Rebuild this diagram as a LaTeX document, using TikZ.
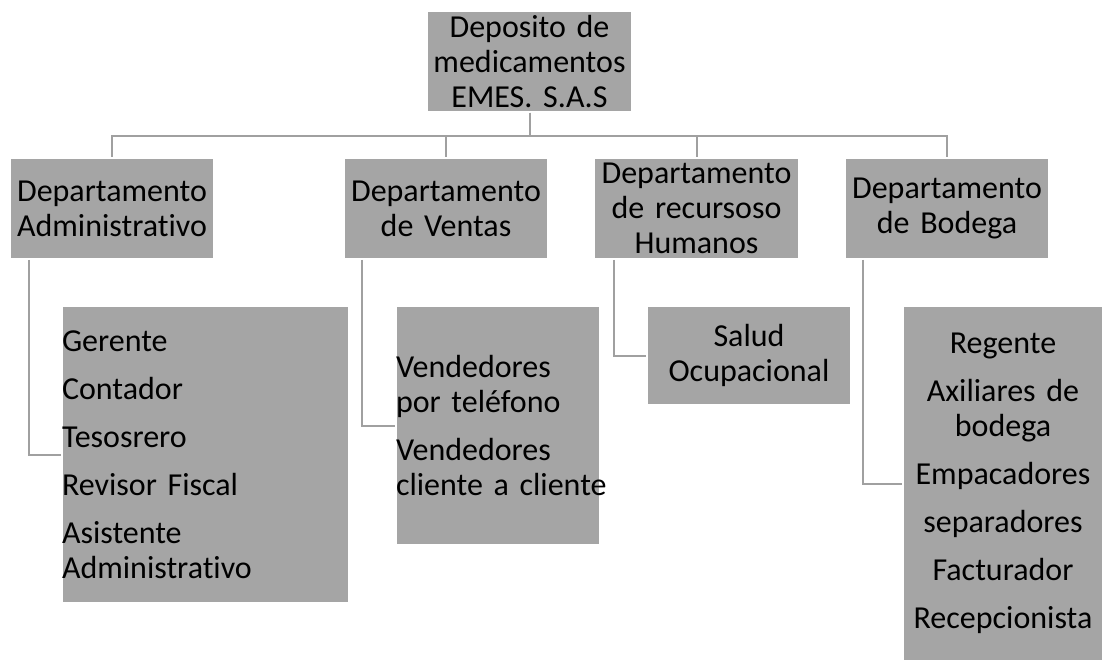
\documentclass[tikz,border=0pt]{standalone}
\usepackage{fontspec}
\setmainfont{Carlito}[Ligatures={NoCommon}]
\usetikzlibrary{positioning}
\definecolor{boxgray}{HTML}{A5A5A5}
\definecolor{linegray}{HTML}{A0A0A0}
\newcommand{\boxfont}{\fontsize{32}{35}\selectfont\fontdimen2\font=4pt}
\begin{document}
\begin{tikzpicture}[x=1pt, y=-1pt,
deptbox/.style={rectangle, draw=white, line width=1.5pt, fill=boxgray, inner sep=0pt, minimum width=204pt, minimum height=101pt, text width=204pt, align=center, font=\boxfont},
kidbox/.style={rectangle, draw=white, line width=1.5pt, fill=boxgray, inner sep=0pt, minimum width=204pt, text width=204pt, font=\boxfont},
conn/.style={draw=linegray, line width=2pt},]

	\useasboundingbox (0,0) rectangle (1106,662);

	% top and departments
	\node (top) [deptbox, minimum width=205pt, text width=205pt] at (529.5, 61.5) {Deposito de\\medicamentos\\EMES. S.A.S};

	\node (admin) [deptbox] at (112, 208.5) {Departamento\\Administrativo};
	\node (ventas) [deptbox] at (446, 208.5) {Departamento\\de Ventas};
	\node (rrhh) [deptbox] at (696.5, 208.5) {Departamento\\de recursoso\\Humanos};
	\node (bodega) [deptbox] at (947, 208.5) {Departamento\\de Bodega};

	% sub boxes
	\node (adminkids) [kidbox, minimum width=287pt, text width=287pt, minimum height=297pt, align=left] at (205.5, 454.5) {Gerente\\[13pt]Contador\\[13pt]Tesosrero\\[13pt]Revisor Fiscal\\[13pt]Asistente\\Administrativo};
	\node (ventaskids) [kidbox, minimum height=239pt, align=left] at (498, 425.5) {Vendedores\\por teléfono\\[13pt]Vendedores\\\mbox{cliente a cliente}};
	\node (rrhhkids) [kidbox, minimum height=99pt, align=center] at (749, 355.5) {Salud\\Ocupacional};
	\node (bodegakids) [kidbox, minimum width=200pt, text width=200pt, minimum height=355pt, align=center] at (1003, 483.5) {Regente\\[13pt]Axiliares de\\bodega\\[13pt]Empacadores\\[13pt]separadores\\[13pt]Facturador\\[13pt]Recepcionista};

	% connectors
	\draw[conn] (top.south) -- ++(0,23) -| (admin.north);
	\draw[conn] (top.south) -- ++(0,23) -| (ventas.north);
	\draw[conn] (top.south) -- ++(0,23) -| (rrhh.north);
	\draw[conn] (top.south) -- ++(0,23) -| (bodega.north);

	\draw[conn] ([xshift=20pt]admin.south west) |- (adminkids.west);
	\draw[conn] ([xshift=19pt]ventas.south west) |- (ventaskids.west);
	\draw[conn] ([xshift=20pt]rrhh.south west) |- (rrhhkids.west);
	\draw[conn] ([xshift=19pt]bodega.south west) |- (bodegakids.west);

\end{tikzpicture}
\end{document}
